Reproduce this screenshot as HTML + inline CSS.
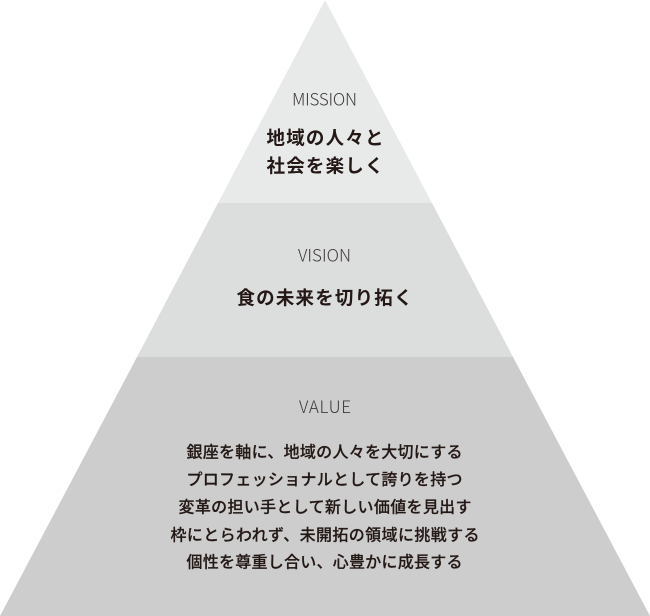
<!DOCTYPE html>
<html lang="ja">
<head>
<meta charset="utf-8">
<style>
html,body{margin:0;padding:0;background:#fff;width:650px;height:616px;overflow:hidden}
svg{display:block}
text{font-family:"Noto Sans CJK JP","Liberation Sans",sans-serif;fill:#231815}
.en{font-size:17px;font-weight:300;fill:#3e3a39}
.big{font-size:18.5px;font-weight:700}
.sm{font-size:16px;font-weight:500;stroke:#231815;stroke-width:.2px}
</style>
</head>
<body>
<svg width="650" height="616" viewBox="0 0 650 616" xmlns="http://www.w3.org/2000/svg">
<polygon points="325,0 432,203 218,203" fill="#e8eaea"/>
<polygon points="218,203 432,203 513,357 137,357" fill="#dcdddd"/>
<polygon points="137,357 513,357 650,616 0,616" fill="#cdcdcd"/>
<text class="en" x="292" y="105.500" textLength="65" lengthAdjust="spacing">MISSION</text>
<text class="big" x="266.500" y="144.500" textLength="117" lengthAdjust="spacing">地域の人々と</text>
<text class="big" x="266.500" y="172.500" textLength="117" lengthAdjust="spacing">社会を楽しく</text>
<text class="en" x="298" y="261.500" textLength="53" lengthAdjust="spacing">VISION</text>
<text class="big" x="236.500" y="304.500" textLength="176" lengthAdjust="spacing">食の未来を切り拓く</text>
<text class="en" x="299" y="413" textLength="52" lengthAdjust="spacing">VALUE</text>
<text class="sm" x="186.500" y="457.500" textLength="276" lengthAdjust="spacing">銀座を軸に、地域の人々を大切にする</text>
<text class="sm" x="186.500" y="485" textLength="276" lengthAdjust="spacing">プロフェッショナルとして誇りを持つ</text>
<text class="sm" x="178.500" y="512.500" textLength="293" lengthAdjust="spacing">変革の担い手として新しい価値を見出す</text>
<text class="sm" x="170.500" y="540.500" textLength="309" lengthAdjust="spacing">枠にとらわれず、未開拓の領域に挑戦する</text>
<text class="sm" x="186.500" y="567.500" textLength="276" lengthAdjust="spacing">個性を尊重し合い、心豊かに成長する</text>
</svg>
</body>
</html>
